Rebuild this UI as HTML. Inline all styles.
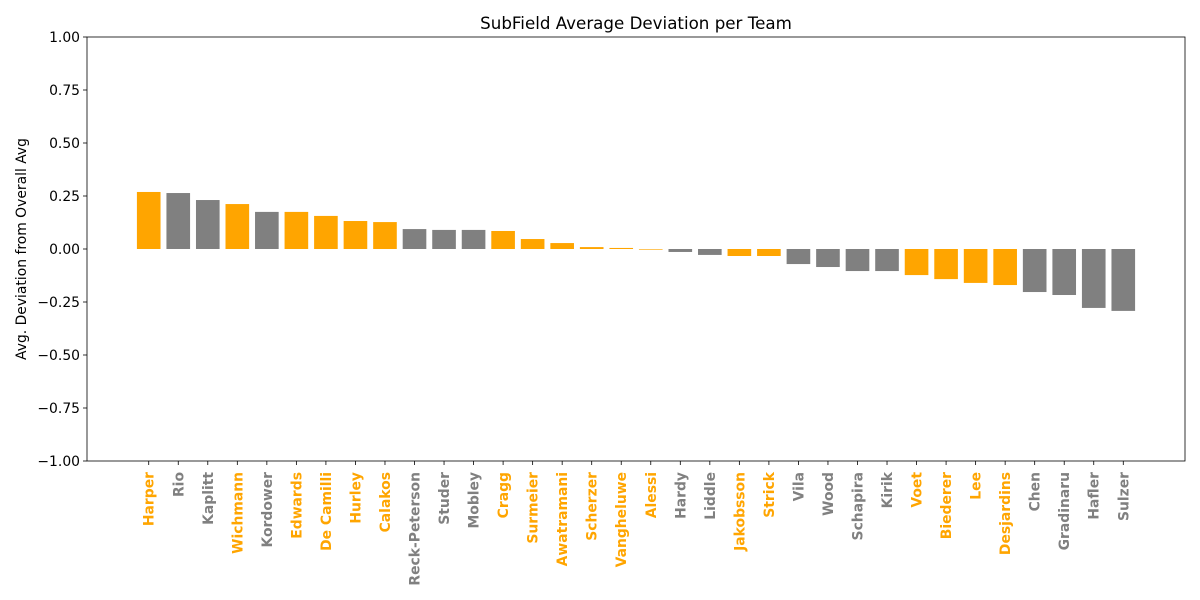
<!DOCTYPE html>
<html><head><meta charset="utf-8"><style>
body{margin:0;background:#fff;}
svg{display:block;font-family:"DejaVu Sans","Liberation Sans",sans-serif;}
</style></head><body>
<svg id="chart" width="1200" height="600">
<rect width="1200" height="600" fill="#fff"/>
</svg>
<script>
const names=["Harper","Rio","Kaplitt","Wichmann","Kordower","Edwards","De Camilli","Hurley","Calakos","Reck-Peterson","Studer","Mobley","Cragg","Surmeier","Awatramani","Scherzer","Vangheluwe","Alessi","Hardy","Liddle","Jakobsson","Strick","Vila","Wood","Schapira","Kirik","Voet","Biederer","Lee","Desjardins","Chen","Gradinaru","Hafler","Sulzer"];
const values=[0.269,0.264,0.231,0.212,0.175,0.175,0.156,0.132,0.127,0.094,0.09,0.09,0.085,0.047,0.028,0.009,0.005,-0.003,-0.014,-0.028,-0.033,-0.033,-0.071,-0.085,-0.104,-0.104,-0.123,-0.142,-0.16,-0.17,-0.203,-0.217,-0.278,-0.292];
const highlighted=[1,0,0,1,0,1,1,1,1,0,0,0,1,1,1,1,1,1,0,0,1,1,0,0,0,0,1,1,1,1,0,0,0,0];
const yTicks=[1.00,0.75,0.50,0.25,0.00,-0.25,-0.50,-0.75,-1.00];
const svg=document.getElementById('chart');
const NS='http://www.w3.org/2000/svg';
const L=87,R=1185,T=37,B=461;
const n=names.length;
const xmin=-0.4-0.05*(n-0.2), xmax=n-1+0.4+0.05*(n-0.2);
const x=i=>L+(i-xmin)/(xmax-xmin)*(R-L);
const y=v=>T+(1-v)/2*(B-T);
function mk(tag,attrs){const e=document.createElementNS(NS,tag);for(const k in attrs)e.setAttribute(k,attrs[k]);svg.appendChild(e);return e;}
const bw=0.8*(x(1)-x(0));
names.forEach((nm,i)=>{
  const v=values[i];const c=highlighted[i]?'#ffa500':'#808080';
  const r=mk('rect',{x:x(i)-bw/2,y:Math.min(y(v),y(0)),width:bw,height:Math.abs(y(v)-y(0)),fill:c});
  
  
  mk('line',{x1:x(i),x2:x(i),y1:B,y2:B+4,stroke:'#000','stroke-width':0.8});
  const t=mk('text',{transform:`translate(${x(i)+5},${B+11}) rotate(-90)`,'text-anchor':'end','font-size':13.9,'font-weight':'bold',fill:c});
  t.textContent=nm;
  
  
});
yTicks.forEach(v=>{
  mk('line',{x1:L-4,x2:L,y1:y(v),y2:y(v),stroke:'#000','stroke-width':0.8});
  const t=mk('text',{x:L-7,y:y(v)+5,'text-anchor':'end','font-size':13.9,fill:'#000'});
  t.textContent=v.toFixed(2).replace('-','\u2212');
  
  
});
const f=mk('rect',{x:L,y:T,width:R-L,height:B-T,fill:'none',stroke:'#000','stroke-width':0.8});


const ti=mk('text',{x:(L+R)/2,y:29,'text-anchor':'middle','font-size':16.7});
ti.textContent='SubField Average Deviation per Team';


const yl=mk('text',{transform:`translate(26,${(T+B)/2}) rotate(-90)`,'text-anchor':'middle','font-size':13.9});
yl.textContent='Avg. Deviation from Overall Avg';


</script>
</body></html>
